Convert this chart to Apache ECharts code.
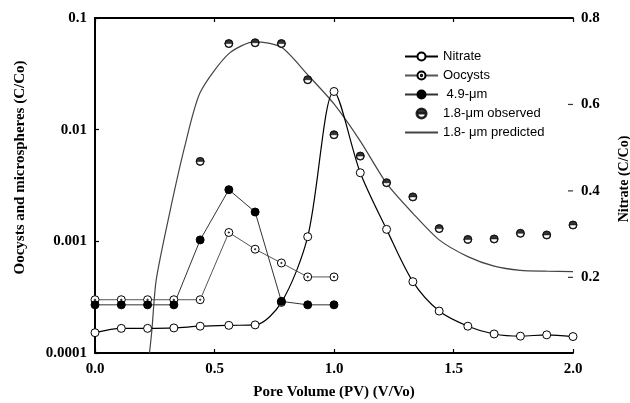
<!DOCTYPE html>
<html>
<head>
<meta charset="utf-8">
<script src="https://cdn.jsdelivr.net/npm/echarts@6/dist/echarts.min.js"></script>
<style>
* { margin: 0; padding: 0; }
html, body { background: #fff; }
#chart { width: 630px; height: 403px; }
</style>
</head>
<body>
<div id="chart"></div>
<script>
// pore volumes (V/Vo)
var pv = [0, 0.11, 0.22, 0.33, 0.44, 0.56, 0.67, 0.78, 0.89, 1.0, 1.11, 1.22, 1.33, 1.44, 1.56, 1.67, 1.78, 1.89, 2.0];
// nitrate C/Co (right axis)
var nitrate = [0.072, 0.082, 0.082, 0.083, 0.087, 0.089, 0.090, 0.142, 0.294, 0.630, 0.442, 0.311, 0.190, 0.122, 0.087, 0.069, 0.064, 0.067, 0.063];
// oocysts and 4.9 um spheres, pv 0 .. 1.0
var oocysts = [0.0003, 0.0003, 0.0003, 0.0003, 0.0003, 0.0012, 0.00085, 0.00064, 0.00048, 0.00048];
var micro49 = [0.00027, 0.00027, 0.00027, 0.00027, 0.00103, 0.0029, 0.00183, 0.00029, 0.00027, 0.00027];
// 1.8 um observed, pv 0.44 .. 2.0
var obs18 = [0.0052, 0.059, 0.060, 0.059, 0.028, 0.009, 0.0058, 0.00335, 0.0025, 0.0013, 0.00104, 0.00105, 0.00118, 0.00114, 0.0014];
// 1.8 um predicted curve
var predPv = [0.228, 0.238, 0.256, 0.312, 0.375, 0.44, 0.56, 0.67, 0.78, 0.89, 1.0, 1.11, 1.22, 1.33, 1.44, 1.56, 1.67, 1.78, 1.89, 2.0];
var pred18 = [0.0001, 0.00016, 0.00045, 0.00178, 0.007, 0.0215, 0.048, 0.0614, 0.0546, 0.031, 0.017, 0.0079, 0.0033, 0.00178, 0.00103, 0.00073, 0.0006, 0.00055, 0.00054, 0.000535];

var leftTickLabels = ['0.0001', '0.001', '0.01', '0.1'];
var rightTicks = [0.2, 0.4, 0.6, 0.8];

function pairs (xs, ys, start) {
  return ys.map(function (v, i) { return [xs[i + (start || 0)], v]; });
}

var dotCircle = 'path://M0,-10A10,10,0,1,1,0,10A10,10,0,1,1,0,-10Z M0,-1.6A1.6,1.6,0,1,1,0,1.6A1.6,1.6,0,1,1,0,-1.6Z';
var halfCircle = 'path://M-10,0A10,10,0,0,1,10,0Z M10,0A10,10,0,0,1,-10,0L-8.4,0A8.4,8.4,0,0,0,8.4,0Z';

var serif = '"Liberation Serif", "Times New Roman", serif';
var sans = '"Liberation Sans", Arial, sans-serif';
var axisLbl = { fontFamily: serif, fontWeight: 'bold', fontSize: 15, color: '#000' };

var chart = echarts.init(document.getElementById('chart'), null, { renderer: 'canvas' });
chart.setOption({
  animation: false,
  backgroundColor: '#fff',
  grid: { left: 95, right: 57, top: 18, bottom: 50, containLabel: false, outerBoundsMode: 'none' },
  legend: {
    orient: 'vertical',
    left: 404,
    top: 50,
    padding: 0,
    itemWidth: 33,
    itemHeight: 10,
    itemGap: 6,
    textStyle: { fontFamily: sans, fontSize: 13, color: '#000' },
    data: [
      'Nitrate',
      'Oocysts',
      ' 4.9-μm',
      '1.8-μm observed',
      { name: '1.8- μm predicted', itemStyle: { opacity: 0 } }
    ]
  },
  xAxis: [{
    type: 'value',
    min: 0,
    max: 2,
    interval: 0.5,
    name: 'Pore Volume (PV) (V/Vo)',
    nameLocation: 'middle',
    nameGap: 32,
    nameTextStyle: { fontFamily: serif, fontWeight: 'bold', fontSize: 15, color: '#000' },
    axisLine: { lineStyle: { color: '#000', width: 1.8 } },
    axisTick: { inside: true, length: 4, lineStyle: { color: '#000', width: 1.2 } },
    axisLabel: Object.assign({ margin: 9, formatter: function (v) { return v.toFixed(1); } }, axisLbl),
    splitLine: { show: false }
  }, {
    type: 'value',
    position: 'top',
    min: 0,
    max: 2,
    interval: 0.5,
    axisLine: { lineStyle: { color: '#000', width: 1.8 } },
    axisTick: { inside: true, length: 4, lineStyle: { color: '#000', width: 1.2 } },
    axisLabel: { show: false },
    splitLine: { show: false }
  }],
  yAxis: [{
    type: 'log',
    logBase: 10,
    min: 0.0001,
    max: 0.1,
    interval: 1,
    position: 'left',
    name: 'Oocysts and microspheres (C/Co)',
    nameLocation: 'middle',
    nameRotate: 90,
    nameGap: 67,
    nameTextStyle: { fontFamily: serif, fontWeight: 'bold', fontSize: 15, color: '#000', padding: [0, 0, 0, 36] },
    axisLine: { show: true, lineStyle: { color: '#000', width: 1.8 } },
    axisTick: { show: true, inside: true, length: 4, lineStyle: { color: '#000', width: 1.2 } },
    minorTick: { show: false },
    axisLabel: Object.assign({
      margin: 8,
      formatter: function (v) { return leftTickLabels[Math.round(Math.log10(v)) + 4]; }
    }, axisLbl),
    splitLine: { show: false }
  }, {
    type: 'value',
    min: 0.025,
    max: 0.8,
    position: 'right',
    name: 'Nitrate (C/Co)',
    nameLocation: 'middle',
    nameRotate: 90,
    nameGap: 44,
    nameTextStyle: { fontFamily: serif, fontWeight: 'bold', fontSize: 14, color: '#000', padding: [0, 0, 0, 13] },
    axisLine: { show: true, lineStyle: { color: '#000', width: 1.8 } },
    axisTick: { show: false },
    axisLabel: Object.assign({ margin: 8, customValues: rightTicks, formatter: function (v) { return v.toFixed(1); } }, axisLbl),
    splitLine: { show: false }
  }],
  series: [{
    name: '1.8- μm predicted',
    type: 'line',
    yAxisIndex: 0,
    data: pairs(predPv, pred18),
    smooth: 0.25,
    showSymbol: false,
    symbol: 'none',
    lineStyle: { color: '#444', width: 1.2 },
    itemStyle: { color: '#444' },
    z: 2
  }, {
    name: 'Nitrate',
    type: 'line',
    yAxisIndex: 1,
    data: pairs(pv, nitrate),
    smooth: 0.3,
    symbol: 'circle',
    symbolSize: 8,
    lineStyle: { color: '#000', width: 1.2 },
    itemStyle: { color: '#fff', borderColor: '#000', borderWidth: 1 },
    z: 3
  }, {
    name: 'Oocysts',
    type: 'line',
    yAxisIndex: 0,
    data: pairs(pv, oocysts),
    symbol: dotCircle,
    symbolSize: 8,
    lineStyle: { color: '#555', width: 1 },
    itemStyle: { color: '#fff', borderColor: '#000', borderWidth: 1 },
    z: 4
  }, {
    name: ' 4.9-μm',
    type: 'line',
    yAxisIndex: 0,
    data: pairs(pv, micro49),
    symbol: 'circle',
    symbolSize: 8,
    lineStyle: { color: '#333', width: 1 },
    itemStyle: { color: '#000', borderColor: '#000', borderWidth: 1 },
    z: 4
  }, {
    name: 'obsBack',
    type: 'scatter',
    yAxisIndex: 0,
    data: pairs(pv, obs18, 4),
    symbol: 'circle',
    symbolSize: 8,
    silent: true,
    itemStyle: { color: '#fff', borderColor: '#000', borderWidth: 0.8 },
    z: 5
  }, {
    name: '1.8-μm observed',
    type: 'scatter',
    yAxisIndex: 0,
    data: pairs(pv, obs18, 4),
    symbol: halfCircle,
    symbolSize: 8,
    itemStyle: { color: '#000', borderColor: '#000', borderWidth: 0.6 },
    z: 6
  }, {
    // inward tick marks on the nitrate axis
    name: 'rightTickMarks',
    type: 'scatter',
    yAxisIndex: 1,
    data: rightTicks.slice(0, 3).map(function (v) { return [2, v]; }),
    symbol: 'rect',
    symbolSize: [5, 1.2],
    symbolOffset: [-2.5, 0],
    silent: true,
    clip: false,
    itemStyle: { color: '#000' },
    z: 7
  }]
});
</script>
</body>
</html>
